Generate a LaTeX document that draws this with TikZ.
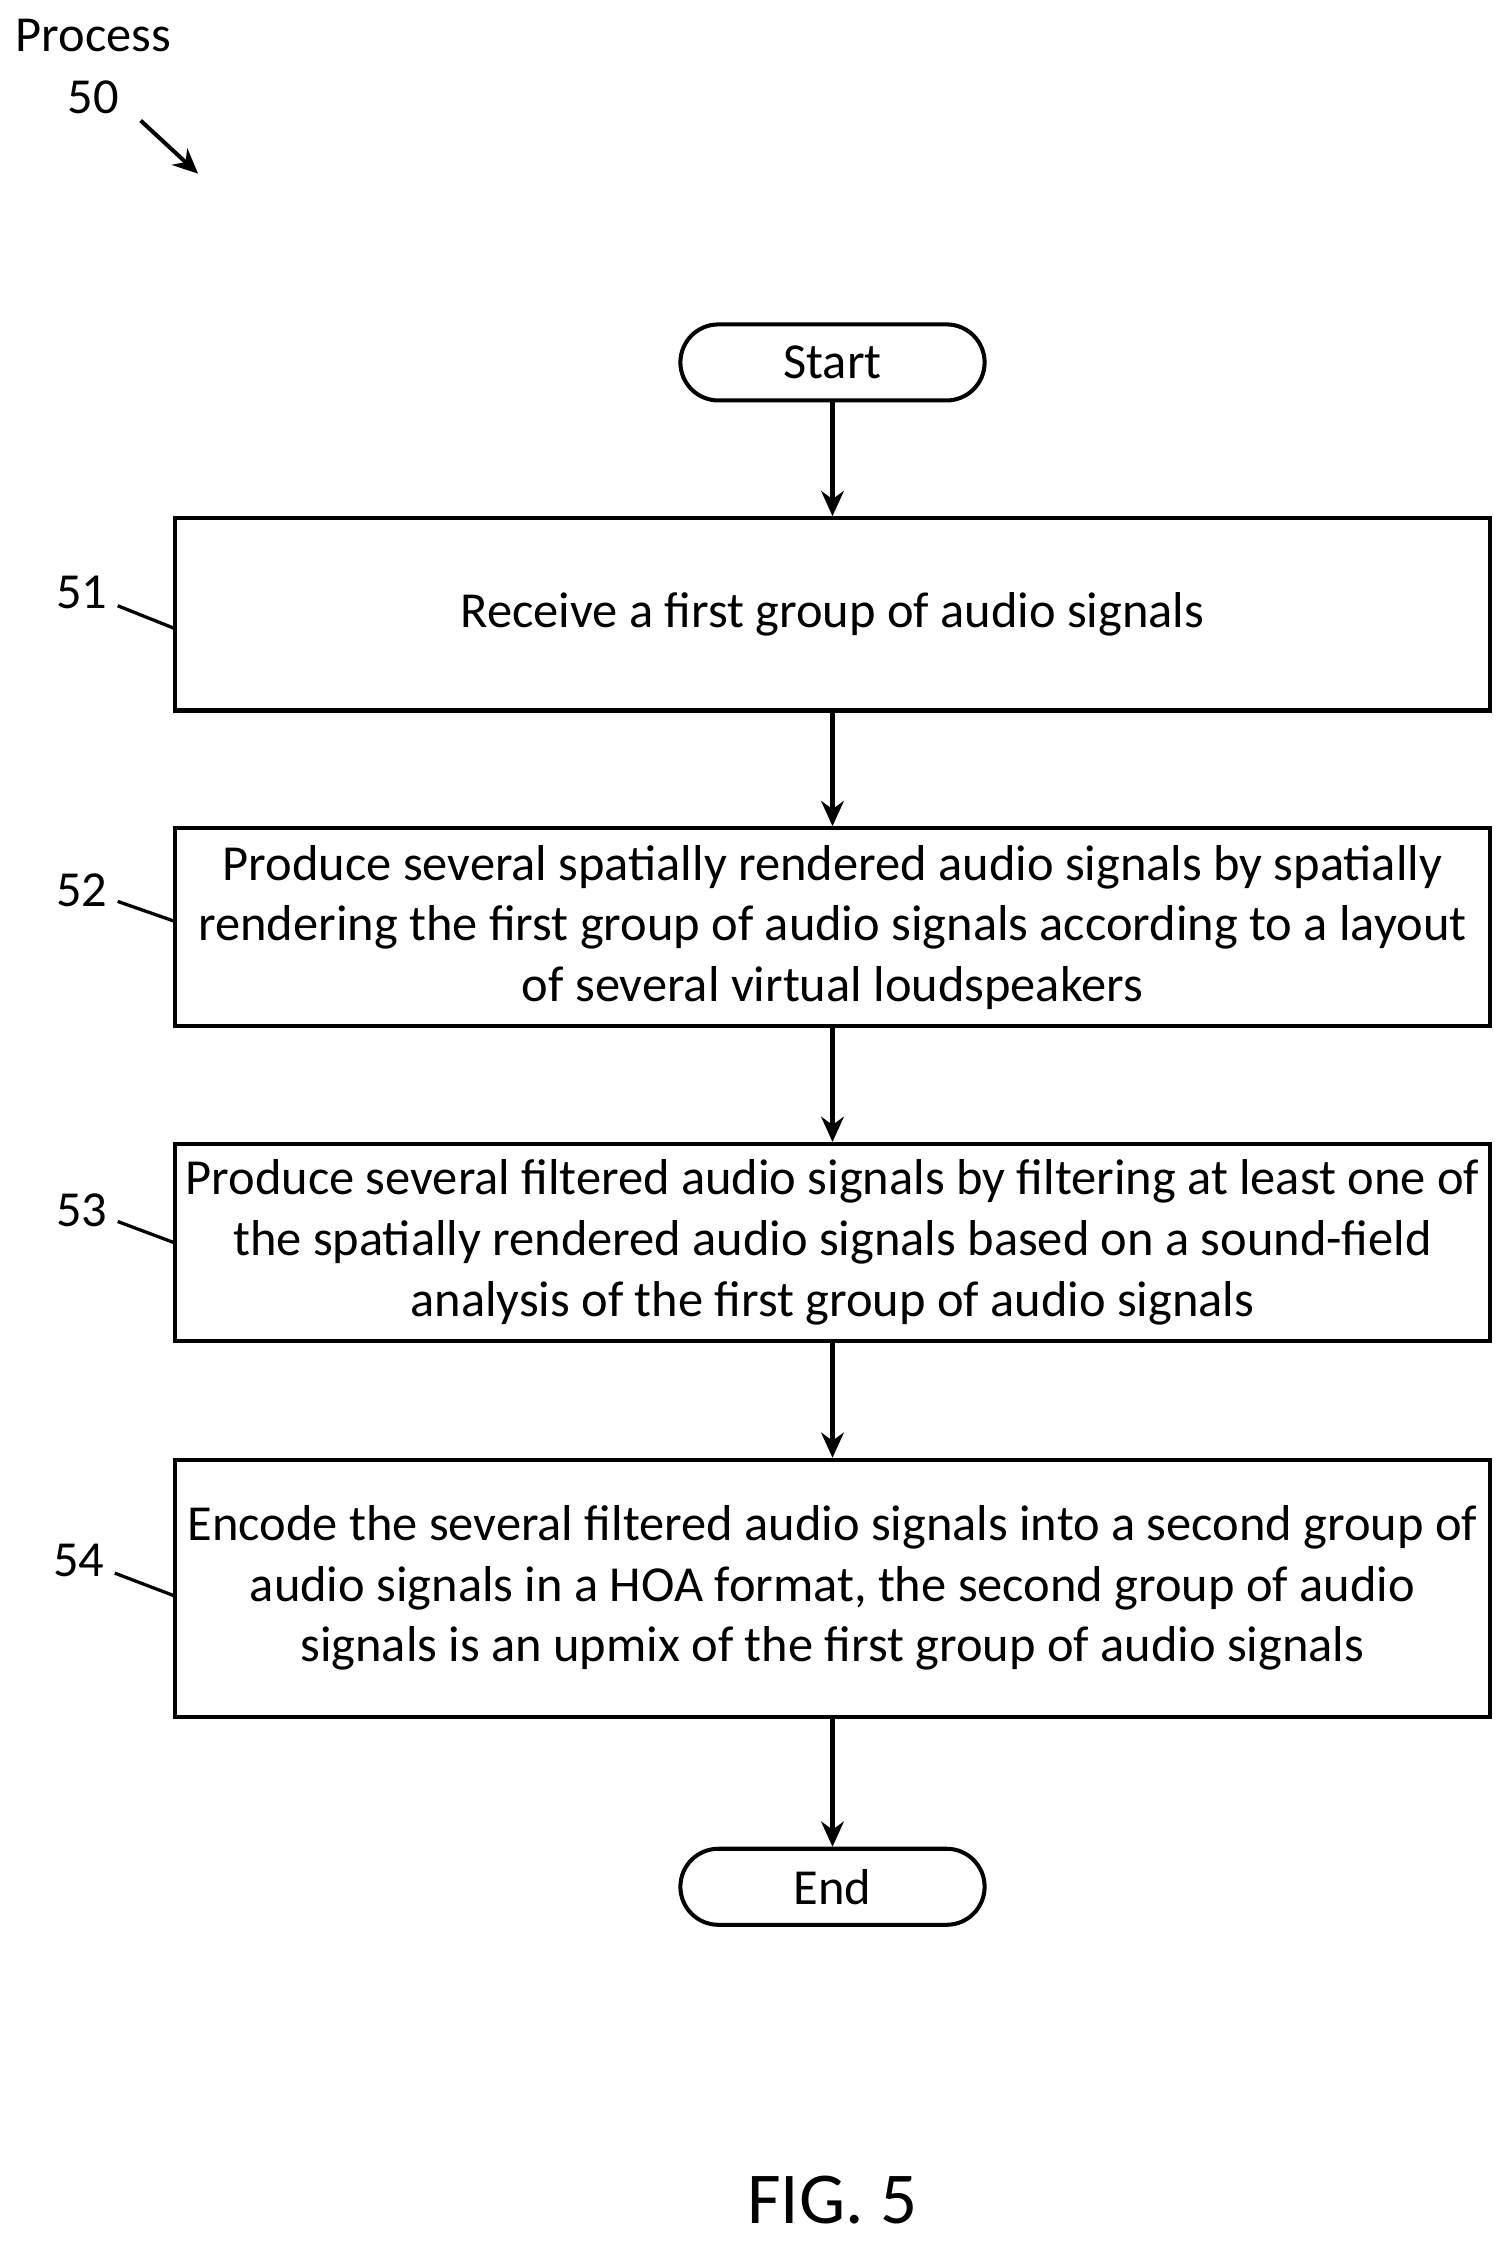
\documentclass[tikz,border=0pt]{standalone}
\usepackage{fontspec}
\setmainfont{Carlito}
\usetikzlibrary{arrows.meta}
\begin{document}
\begin{tikzpicture}[x=0.02cm,y=-0.02cm,
  every node/.style={font=\fontsize{20}{24}\selectfont},
  stepbox/.style={draw,line width=1.6pt,minimum width=18.32cm,align=center,inner sep=0pt},
  term/.style={draw,line width=1.6pt,rounded corners=0.53cm,minimum width=4.24cm,minimum height=1.06cm},
  flow/.style={-{Stealth[length=10pt,width=9pt]},line width=1.6pt},
  tag/.style={line width=1.3pt}]
  \useasboundingbox (0,0) rectangle (1050,1562);
  \node (proc) at (65,25) {Process};
  \node (fifty) at (65,68) {50};
  \draw[flow] (98,84) -- (138,121);
  \node[term] (start) at (580,252.5) {Start};
  \node[stepbox,minimum height=2.68cm] (s51) at (580,428) {Receive a first group of audio signals};
  \node[stepbox,minimum height=2.76cm] (s52) at (580,646) {Produce several spatially rendered audio signals by spatially\\rendering the first group of audio signals according to a layout\\of several virtual loudspeakers};
  \node[stepbox,minimum height=2.74cm] (s53) at (580,865.5) {Produce several filtered audio signals by filtering at least one of\\the spatially rendered audio signals based on a sound-field\\analysis of the first group of audio signals};
  \node[stepbox,minimum height=3.58cm] (s54) at (580,1106.5) {Encode the several filtered audio signals into a second group of\\audio signals in a HOA format, the second group of audio\\signals is an upmix of the first group of audio signals};
  \node[term] (end) at (580,1314.5) {End};
  \draw[flow] (start) -- (s51);
  \draw[flow] (s51) -- (s52);
  \draw[flow] (s52) -- (s53);
  \draw[flow] (s53) -- (s54);
  \draw[flow] (s54) -- (end);
  % step numbers
  \node (n51) at (57,413) {51};
  \draw[tag] (82,422) -- (122,438);
  \node (n52) at (57,620) {52};
  \draw[tag] (82,628) -- (122,642);
  \node (n53) at (57,843) {53};
  \draw[tag] (82,851) -- (122,866);
  \node (n54) at (55,1087) {54};
  \draw[tag] (80,1096) -- (122,1112);
  \node[font=\fontsize{29}{34}\selectfont] (fig) at (580,1533) {FIG. 5};
\end{tikzpicture}
\end{document}
